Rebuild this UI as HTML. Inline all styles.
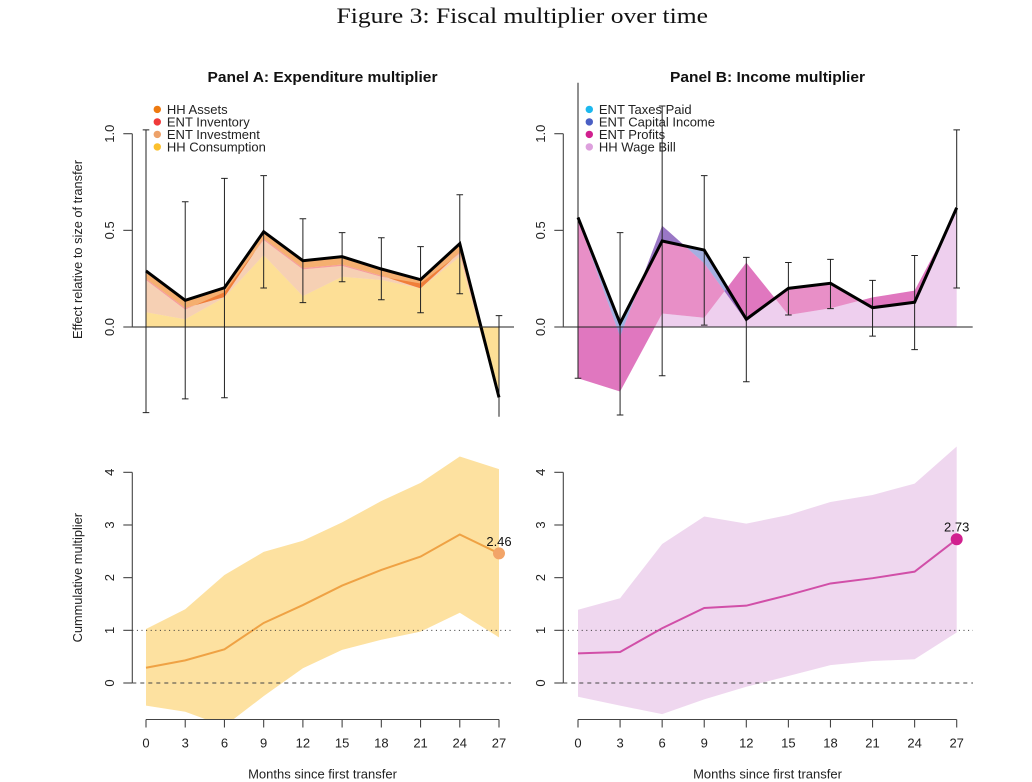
<!DOCTYPE html>
<html lang="en">
<head>
<meta charset="utf-8">
<title>Figure 3: Fiscal multiplier over time</title>
<style>
html,body{margin:0;padding:0;background:#fff;}
svg{display:block;font-family:"Liberation Sans",sans-serif;}
</style>
</head>
<body>
<svg id="chart" width="1032" height="782" viewBox="0 0 1032 782" xmlns="http://www.w3.org/2000/svg">
<rect width="1032" height="782" fill="#fff"/>
<text x="336.5" y="23" font-family="'Liberation Serif',serif" font-size="22.5" textLength="371.5" lengthAdjust="spacingAndGlyphs" fill="#111">Figure 3: Fiscal multiplier over time</text>
<text x="207.5" y="82" font-size="15" font-weight="bold" fill="#111" textLength="230" lengthAdjust="spacingAndGlyphs">Panel A: Expenditure multiplier</text>
<text x="670" y="82" font-size="15" font-weight="bold" fill="#111" textLength="195" lengthAdjust="spacingAndGlyphs">Panel B: Income multiplier</text>
<text transform="translate(82,249.5) rotate(-90)" text-anchor="middle" font-size="12.8" fill="#222">Effect relative to size of transfer</text>
<text transform="translate(82,577.7) rotate(-90)" text-anchor="middle" font-size="12.8" fill="#222">Cummulative multiplier</text>
<text x="322.5" y="778.5" text-anchor="middle" font-size="13" fill="#222">Months since first transfer</text>
<text x="767.5" y="778.5" text-anchor="middle" font-size="13" fill="#222">Months since first transfer</text>
<defs>
<clipPath id="clip-a-top"><rect x="100" y="82.7" width="420" height="334"/></clipPath>
<clipPath id="clip-b-top"><rect x="540" y="82.7" width="440" height="334"/></clipPath>
<clipPath id="clip-a-low"><rect x="100" y="430" width="420" height="289.5"/></clipPath>
<clipPath id="clip-b-low"><rect x="540" y="430" width="440" height="289.5"/></clipPath>
</defs>
</svg>
<script>
// Shared categories and tick labels
const months = [0, 3, 6, 9, 12, 15, 18, 21, 24, 27];
const topTicks = [0, 0.5, 1];
const topTickLabels = ['0.0', '0.5', '1.0'];
const lowTicks = [0, 1, 2, 3, 4];
const lowTickLabels = ['0', '1', '2', '3', '4'];

// Panel A: cumulative tops of the stacked series
const expConsumption = [0.076, 0.04, 0.153, 0.372, 0.16, 0.26, 0.243, 0.2, 0.364, -0.375];
const expInvestment = [0.243, 0.09, 0.18, 0.45, 0.298, 0.316, 0.26, 0.225, 0.38, -0.372];
const expInventory = [0.25, 0.098, 0.155, 0.457, 0.305, 0.323, 0.266, 0.2, 0.386, -0.37];
const expAssets = [0.29, 0.138, 0.203, 0.493, 0.343, 0.364, 0.3, 0.245, 0.431, -0.364];
const expHigh = [1.02, 0.648, 0.769, 0.783, 0.56, 0.488, 0.462, 0.416, 0.684, 0.059];
const expLow = [-0.443, -0.372, -0.366, 0.202, 0.126, 0.234, 0.141, 0.074, 0.172, -0.49];

// Panel B: cumulative tops of the stacked series
const incWage = [-0.265, -0.334, 0.07, 0.048, 0.333, 0.062, 0.097, 0.153, 0.188, 0.6];
const incProfits = [0.56, -0.05, 0.524, 0.33, 0.03, 0.2, 0.226, 0.1, 0.128, 0.615];
const incCapital = [0.565, -0.005, 0.445, 0.39, 0.05, 0.2, 0.226, 0.1, 0.128, 0.617];
const incTaxes = [0.567, 0.019, 0.445, 0.398, 0.04, 0.2, 0.226, 0.1, 0.128, 0.617];
const incHigh = [1.41, 0.488, 1.143, 0.783, 0.36, 0.334, 0.35, 0.241, 0.37, 1.02];
const incLow = [-0.265, -0.455, -0.252, 0.01, -0.283, 0.062, 0.095, -0.047, -0.117, 0.202];

// Lower panels: cumulative multiplier
const cumExp = [0.29, 0.43, 0.64, 1.14, 1.48, 1.85, 2.146, 2.4, 2.82, 2.46];
const cumExpHigh = [1.025, 1.4, 2.05, 2.49, 2.7, 3.05, 3.455, 3.8, 4.3, 4.06];
const cumExpLow = [-0.43, -0.545, -0.82, -0.25, 0.28, 0.63, 0.82, 0.975, 1.335, 0.867];
const cumExpFinal = '2.46';
const cumInc = [0.563, 0.589, 1.04, 1.424, 1.468, 1.67, 1.89, 1.99, 2.114, 2.73];
const cumIncHigh = [1.39, 1.61, 2.64, 3.16, 3.025, 3.19, 3.437, 3.57, 3.785, 4.49];
const cumIncLow = [-0.26, -0.43, -0.59, -0.31, -0.07, 0.133, 0.34, 0.418, 0.45, 0.96];
const cumIncFinal = '2.73';

// Legends
const expLegend = ['HH Assets', 'ENT Inventory', 'ENT Investment', 'HH Consumption'];
const incLegend = ['ENT Taxes Paid', 'ENT Capital Income', 'ENT Profits', 'HH Wage Bill'];

const svg = document.getElementById('chart');
const NS = 'http://www.w3.org/2000/svg';

function mk(tag, props, parent) {
  const el = document.createElementNS(NS, tag);
  for (const k in props) el.setAttribute(k, props[k]);
  (parent || svg).appendChild(el);
  return el;
}
function named(el, name) {
  
  
  return el;
}
function xScale(x0, x1) {
  const lo = months[0], hi = months[months.length - 1];
  return m => x0 + (m - lo) / (hi - lo) * (x1 - x0);
}
function yScale(y0, perUnit) {
  return v => y0 - v * perUnit;
}
function bandPath(x, y, upper, lower) {
  const up = months.map((m, i) => x(m).toFixed(2) + ',' + y(upper[i]).toFixed(2));
  const dn = months.map((m, i) => x(m).toFixed(2) + ',' + y(lower ? lower[i] : 0).toFixed(2)).reverse();
  return 'M' + up.concat(dn).join('L') + 'Z';
}
function linePath(x, y, vals) {
  return 'M' + months.map((m, i) => x(m).toFixed(2) + ',' + y(vals[i]).toFixed(2)).join('L');
}
function yAxis(group, axisX, y, ticks, labels, prefix) {
  const ax = mk('line', {x1: axisX, x2: axisX, y1: y(ticks[0]), y2: y(ticks[ticks.length - 1]), stroke: '#444', 'stroke-width': 1.1}, group);
  named(ax, prefix + '-y-axis-line');
  ticks.forEach((t, i) => {
    const tk = mk('line', {x1: axisX - 9, x2: axisX, y1: y(t), y2: y(t), stroke: '#444', 'stroke-width': 1.1}, group);
    named(tk, prefix + '-y-tick');
    const lb = mk('text', {transform: 'translate(' + (axisX - 18.5) + ',' + y(t) + ') rotate(-90)', 'text-anchor': 'middle', 'font-size': 13, fill: '#222'}, group);
    lb.textContent = labels[i];
    named(lb, prefix + '-y-tick-label');
  });
}
function xAxis(group, x, axisY, prefix) {
  const ax = mk('line', {x1: x(months[0]), x2: x(months[months.length - 1]), y1: axisY, y2: axisY, stroke: '#444', 'stroke-width': 1.1}, group);
  named(ax, prefix + '-x-axis-line');
  months.forEach(m => {
    const tk = mk('line', {x1: x(m), x2: x(m), y1: axisY, y2: axisY + 8, stroke: '#444', 'stroke-width': 1.1}, group);
    named(tk, prefix + '-x-tick');
    const lb = mk('text', {x: x(m), y: axisY + 28, 'text-anchor': 'middle', 'font-size': 13, fill: '#222'}, group);
    lb.textContent = String(m);
    named(lb, prefix + '-x-tick-label');
  });
}
function errorBars(group, x, y, hi, lo, prefix) {
  months.forEach((m, i) => {
    const cx = x(m);
    const p = mk('path', {
      d: 'M' + cx + ',' + y(hi[i]) + 'V' + y(lo[i]) +
         'M' + (cx - 3.3) + ',' + y(hi[i]) + 'H' + (cx + 3.3) +
         'M' + (cx - 3.3) + ',' + y(lo[i]) + 'H' + (cx + 3.3),
      fill: 'none', stroke: '#222', 'stroke-width': 1
    }, group);
    named(p, prefix + '-error-bar-month-' + m);
  });
}
function legend(group, dotX, labels, colors, prefix) {
  labels.forEach((t, i) => {
    const cy = 109.4 + i * 12.5;
    const d = mk('circle', {cx: dotX, cy: cy, r: 3.7, fill: colors[i]}, group);
    named(d, prefix + '-legend-marker');
    const lb = mk('text', {x: dotX + 9.6, y: cy + 4.4, 'font-size': 13, fill: '#222'}, group);
    lb.textContent = t;
    named(lb, prefix + '-legend-label');
  });
}

const yTop = yScale(327, 193.3);
const yLow = yScale(683, 52.67);
const xA = xScale(146, 499);
const xB = xScale(578, 956.7);

/* ---------- Panel A ---------- */
const gA = named(mk('g', {}), 'panel-a-expenditure');
const gAc = mk('g', {'clip-path': 'url(#clip-a-top)'}, gA);
named(mk('path', {d: bandPath(xA, yTop, expConsumption), fill: '#fbc02d', 'fill-opacity': 0.5}, gAc), 'area-hh-consumption');
named(mk('path', {d: bandPath(xA, yTop, expInvestment, expConsumption), fill: '#eda26a', 'fill-opacity': 0.5}, gAc), 'area-ent-investment');
named(mk('path', {d: bandPath(xA, yTop, expInventory, expInvestment), fill: '#f03a3a', 'fill-opacity': 0.5}, gAc), 'area-ent-inventory');
named(mk('path', {d: bandPath(xA, yTop, expAssets, expInventory), fill: '#ee7a10', 'fill-opacity': 0.6}, gAc), 'area-hh-assets');
named(mk('line', {x1: 123.5, x2: 514, y1: yTop(0), y2: yTop(0), stroke: '#222', 'stroke-width': 1}, gA), 'panel-a-zero-line');
errorBars(gAc, xA, yTop, expHigh, expLow, 'panel-a');
named(mk('path', {d: linePath(xA, yTop, expAssets), fill: 'none', stroke: '#000', 'stroke-width': 3, 'stroke-linejoin': 'miter'}, gAc), 'panel-a-total-line');
yAxis(gA, 132.3, yTop, topTicks, topTickLabels, 'panel-a');
legend(gA, 157.3, expLegend, ['#ee7a10', '#f03a3a', '#eda26a', '#fbc02d'], 'panel-a');

/* ---------- Panel B ---------- */
const gB = named(mk('g', {}), 'panel-b-income');
const gBc = mk('g', {'clip-path': 'url(#clip-b-top)'}, gB);
named(mk('path', {d: bandPath(xB, yTop, incWage), fill: '#dda0dd', 'fill-opacity': 0.5}, gBc), 'area-hh-wage-bill');
named(mk('path', {d: bandPath(xB, yTop, incProfits, incWage), fill: '#d1208f', 'fill-opacity': 0.5}, gBc), 'area-ent-profits');
named(mk('path', {d: bandPath(xB, yTop, incCapital, incProfits), fill: '#4a5fc4', 'fill-opacity': 0.5}, gBc), 'area-ent-capital-income');
named(mk('path', {d: bandPath(xB, yTop, incTaxes, incCapital), fill: '#1cb8ee', 'fill-opacity': 0.5}, gBc), 'area-ent-taxes-paid');
named(mk('line', {x1: 554.5, x2: 972.7, y1: yTop(0), y2: yTop(0), stroke: '#222', 'stroke-width': 1}, gB), 'panel-b-zero-line');
errorBars(gBc, xB, yTop, incHigh, incLow, 'panel-b');
named(mk('path', {d: linePath(xB, yTop, incTaxes), fill: 'none', stroke: '#000', 'stroke-width': 3, 'stroke-linejoin': 'miter'}, gBc), 'panel-b-total-line');
yAxis(gB, 563.3, yTop, topTicks, topTickLabels, 'panel-b');
legend(gB, 589.3, incLegend, ['#1cb8ee', '#4a5fc4', '#d1208f', '#dda0dd'], 'panel-b');

/* ---------- Lower panel A ---------- */
const gC = named(mk('g', {}), 'lower-panel-a-cumulative');
const gCc = mk('g', {'clip-path': 'url(#clip-a-low)'}, gC);
named(mk('path', {d: bandPath(xA, yLow, cumExpHigh, cumExpLow), fill: '#fde1a0'}, gCc), 'expenditure-confidence-band');
named(mk('line', {x1: 132.3, x2: 514, y1: yLow(1), y2: yLow(1), stroke: '#333', 'stroke-width': 1, 'stroke-dasharray': '1 3.6'}, gC), 'expenditure-one-reference-line');
named(mk('line', {x1: 132.3, x2: 511, y1: yLow(0), y2: yLow(0), stroke: '#444', 'stroke-width': 1.1, 'stroke-dasharray': '4 4'}, gC), 'expenditure-zero-reference-line');
named(mk('path', {d: linePath(xA, yLow, cumExp), fill: 'none', stroke: '#efa244', 'stroke-width': 2}, gCc), 'expenditure-cumulative-line');
named(mk('circle', {cx: xA(27), cy: yLow(cumExp[9]), r: 6, fill: '#f2a468'}, gC), 'expenditure-final-point');
const lblA = mk('text', {x: xA(27), y: yLow(cumExp[9]) - 7.5, 'text-anchor': 'middle', 'font-size': 13, fill: '#111'}, gC);
lblA.textContent = cumExpFinal;
named(lblA, 'expenditure-final-value');
yAxis(gC, 132.3, yLow, lowTicks, lowTickLabels, 'lower-a');
xAxis(gC, xA, 719.5, 'lower-a');

/* ---------- Lower panel B ---------- */
const gD = named(mk('g', {}), 'lower-panel-b-cumulative');
const gDc = mk('g', {'clip-path': 'url(#clip-b-low)'}, gD);
named(mk('path', {d: bandPath(xB, yLow, cumIncHigh, cumIncLow), fill: '#efd7ef'}, gDc), 'income-confidence-band');
named(mk('line', {x1: 563.3, x2: 973, y1: yLow(1), y2: yLow(1), stroke: '#333', 'stroke-width': 1, 'stroke-dasharray': '1 3.6'}, gD), 'income-one-reference-line');
named(mk('line', {x1: 563.3, x2: 973, y1: yLow(0), y2: yLow(0), stroke: '#444', 'stroke-width': 1.1, 'stroke-dasharray': '4 4'}, gD), 'income-zero-reference-line');
named(mk('path', {d: linePath(xB, yLow, cumInc), fill: 'none', stroke: '#d14fa8', 'stroke-width': 2}, gDc), 'income-cumulative-line');
named(mk('circle', {cx: xB(27), cy: yLow(cumInc[9]), r: 6, fill: '#d1208f'}, gD), 'income-final-point');
const lblB = mk('text', {x: xB(27), y: yLow(cumInc[9]) - 7.5, 'text-anchor': 'middle', 'font-size': 13, fill: '#111'}, gD);
lblB.textContent = cumIncFinal;
named(lblB, 'income-final-value');
yAxis(gD, 563.3, yLow, lowTicks, lowTickLabels, 'lower-b');
xAxis(gD, xB, 719.5, 'lower-b');
</script>
</body>
</html>
